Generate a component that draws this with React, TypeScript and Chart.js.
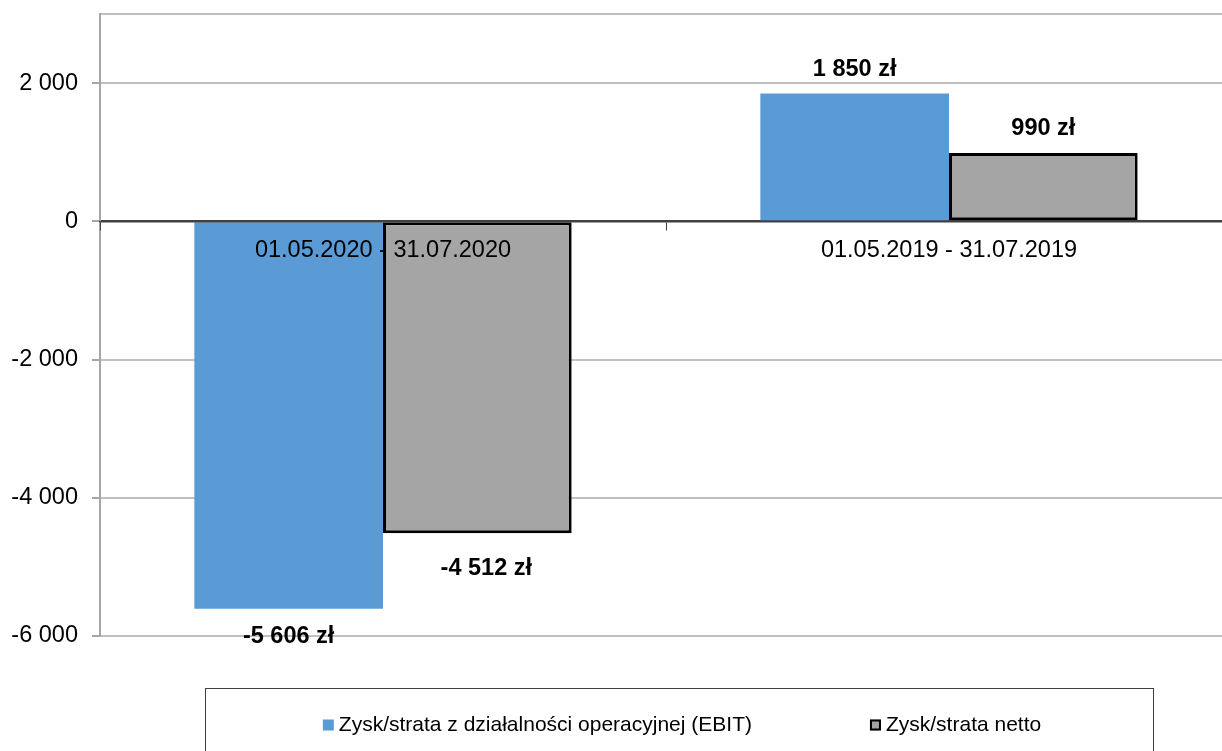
import React, { useEffect, useRef } from "react";
import { Chart, registerables } from "chart.js";

Chart.register(...registerables);

// ---- data ----
const categories = ["01.05.2020 - 31.07.2020", "01.05.2019 - 31.07.2019"];
const seriesNames = ["Zysk/strata z działalności operacyjnej (EBIT)", "Zysk/strata netto"];
const ebitValues = [-5606, 1850];
const netValues = [-4512, 990];
const yTickValues = [-6000, -4000, -2000, 0, 2000];
const yMin = -6000;
const yMax = 3000;
const currency = "zł";

const FONT = '"Liberation Sans", Arial, sans-serif';

const fmt = (v: number) => {
  const s = Math.abs(Math.round(v))
    .toString()
    .replace(/\B(?=(\d{3})+(?!\d))/g, " ");
  return (v < 0 ? "-" : "") + s;
};

const valueLabels = {
  id: "valueLabels",
  afterDatasetsDraw(chart: any, _args: any, opts: any) {
    const { ctx } = chart;
    ctx.save();
    ctx.font = `bold ${opts.size}px ${FONT}`;
    ctx.fillStyle = "#000";
    ctx.textAlign = "center";
    ctx.textBaseline = "middle";
    chart.data.datasets.forEach((ds: any, di: number) => {
      const meta = chart.getDatasetMeta(di);
      meta.data.forEach((el: any, i: number) => {
        const v = ds.data[i] as number;
        const sh = (opts.shifts && opts.shifts[`${di}-${i}`]) || {};
        const dx = sh.dx ?? 0;
        const dy = sh.dy ?? (v >= 0 ? opts.above : opts.below);
        const y = v >= 0 ? el.y - dy : el.y + dy;
        ctx.fillText(`${fmt(v)} ${currency}`, el.x + dx, y);
      });
    });
    ctx.restore();
  },
};

const boxedLegend = {
  id: "boxedLegend",
  afterDraw(chart: any, _args: any, o: any) {
    const ctx = chart.ctx;
    ctx.save();
    ctx.strokeStyle = o.borderColor;
    ctx.lineWidth = 1;
    ctx.strokeRect(o.left + 0.5, o.top + 0.5, o.right - o.left, chart.height - o.top + 20);
    ctx.font = `${o.size}px ${FONT}`;
    ctx.textBaseline = "middle";
    ctx.textAlign = "left";
    const items = chart.data.datasets.map((ds: any) => ({
      label: ds.label,
      fill: ds.backgroundColor,
      stroke: ds.borderWidth ? ds.borderColor : null,
      w: ctx.measureText(ds.label).width,
    }));
    const total =
      items.reduce((s: number, it: any) => s + o.box + o.textGap + it.w, 0) +
      o.itemGap * (items.length - 1);
    let x = (o.left + o.right) / 2 - total / 2 + (o.dx || 0);
    const cy = o.textY;
    items.forEach((it: any) => {
      ctx.fillStyle = it.fill;
      ctx.fillRect(x, cy - o.box / 2, o.box, o.box);
      if (it.stroke) {
        ctx.strokeStyle = it.stroke;
        ctx.lineWidth = 2;
        ctx.strokeRect(x + 1, cy - o.box / 2 + 1, o.box - 2, o.box - 2);
      }
      ctx.fillStyle = "#000";
      ctx.fillText(it.label, x + o.box + o.textGap, cy);
      x += o.box + o.textGap + it.w + o.itemGap;
    });
    ctx.restore();
  },
};

export default function App() {
  const ref = useRef<HTMLCanvasElement | null>(null);

  useEffect(() => {
    if (!ref.current) return;
    const chart = new Chart(ref.current, {
      type: "bar",
      data: {
        labels: categories,
        datasets: [
          {
            label: seriesNames[0],
            data: ebitValues,
            backgroundColor: "#5B9BD5",
            borderWidth: 0,
          },
          {
            label: seriesNames[1],
            data: netValues,
            backgroundColor: "#A5A5A5",
            borderColor: "#000000",
            borderWidth: 3,
            borderSkipped: false,
          },
        ],
      },
      plugins: [valueLabels, boxedLegend],
      options: {
        responsive: false,
        animation: false,
        devicePixelRatio: 1,
        layout: { padding: { left: 0, top: 14, right: 8, bottom: 115 } },
        datasets: { bar: { categoryPercentage: 2 / 3, barPercentage: 1 } },
        plugins: {
          legend: { display: false },
          tooltip: { enabled: false },
          valueLabels: {
            size: 23.5,
            above: 24,
            below: 28,
            shifts: { "1-0": { dx: 9, dy: 35 } },
          },
          boxedLegend: {
            left: 205,
            right: 1153,
            top: 688,
            borderColor: "#404040",
            size: 21,
            textY: 725,
            box: 11,
            textGap: 5,
            itemGap: 118,
            dx: 3,
          },
        } as any,
        scales: {
          x: {
            type: "category",
            position: { y: 0 } as any,
            offset: true,
            grid: {
              drawOnChartArea: false,
              drawTicks: true,
              tickLength: 8,
              color: "#404040",
              offset: true,
              lineWidth: 1,
              z: 1,
            },
            border: { display: true, color: "#404040", width: 1.5, z: 1 },
            ticks: {
              font: { family: FONT, size: 23.5 },
              color: "#000",
              padding: 7,
              maxRotation: 0,
              autoSkip: false,
              z: 1,
            },
          },
          y: {
            min: yMin,
            max: yMax,
            afterFit: (s: any) => {
              s.width = 100;
              s.paddingTop = 0;
              s.paddingBottom = 0;
            },
            afterBuildTicks: (s: any) => {
              s.ticks = [...yTickValues, yMax].map((v) => ({ value: v }));
            },
            grid: {
              color: (c: any) => (c.tick && c.tick.value === 0 ? "#404040" : "#c0c0c0"),
              lineWidth: 2,
              tickLength: 8,
              tickColor: (c: any) =>
                c.tick && c.tick.value === yMax ? "rgba(0,0,0,0)" : "#a6a6a6",
            },
            border: { display: true, color: "#a6a6a6", width: 2 },
            ticks: {
              font: { family: FONT, size: 23.5 },
              color: "#000",
              padding: 14,
              callback: (v: any) => (v === yMax ? "" : fmt(Number(v))),
            },
          },
        },
      } as any,
    });
    return () => chart.destroy();
  }, []);

  return (
    <div
      style={{
        position: "fixed",
        left: 0,
        top: 0,
        width: 1222,
        height: 751,
        overflow: "hidden",
        background: "#fff",
      }}
    >
      <canvas ref={ref} width={1240} height={751} style={{ display: "block" }} />
    </div>
  );
}
